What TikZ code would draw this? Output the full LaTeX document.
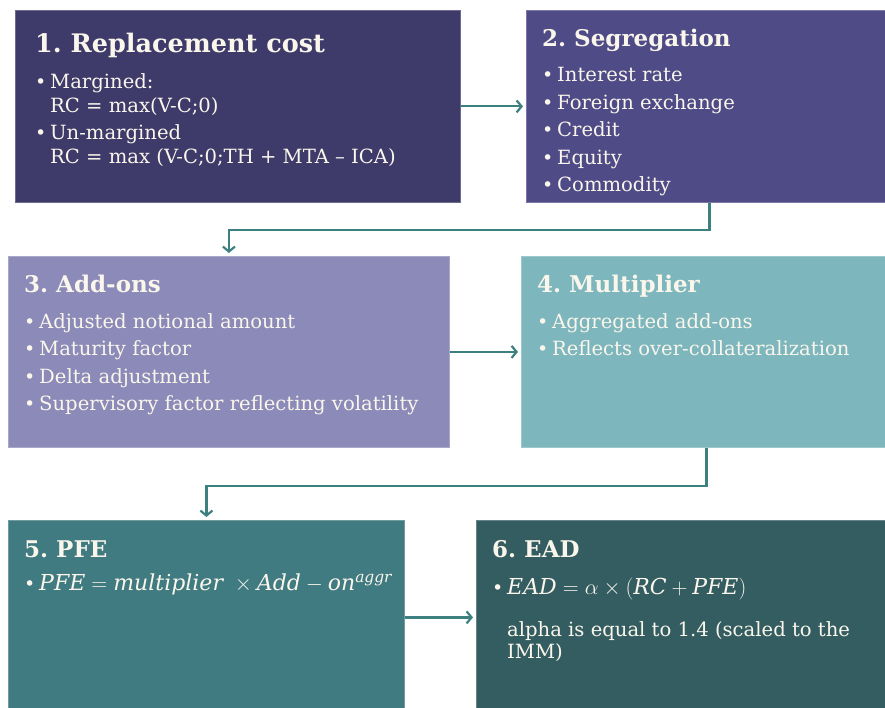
\RequirePackage{fix-cm}
\documentclass[tikz,border=0pt]{standalone}
\usepackage{fontspec}
\setmainfont{DejaVu Serif}
\usetikzlibrary{arrows.meta,positioning,calc}
\frenchspacing

\definecolor{boxone}{HTML}{3E3A6A}
\definecolor{boxtwo}{HTML}{4F4B87}
\definecolor{boxthree}{HTML}{8B8AB8}
\definecolor{boxfour}{HTML}{7DB6BD}
\definecolor{boxfive}{HTML}{407B81}
\definecolor{boxsix}{HTML}{345D61}
\definecolor{flowc}{HTML}{3D8080}
\definecolor{txt}{HTML}{FAF6EC}

\def\bul{\makebox[15pt][l]{\raisebox{0pt}{\fontsize{19}{19}\selectfont\textbullet}}}
\def\ind{\hspace*{15pt}}
\def\mth{\fontsize{22}{22}\selectfont}

\tikzset{
	panel/.style={rectangle, anchor=north west, inner sep=0pt, draw=#1!75!white, line width=0.8pt, fill=#1},
	head/.style={anchor=base west, inner sep=0pt, text=txt, font=\fontsize{23}{28}\selectfont\bfseries},
	list/.style={anchor=north west, inner sep=0pt, text=txt, align=left, font=\fontsize{19.6}{27.6}\selectfont},
	flow/.style={draw=flowc, line width=2.2pt, -{Straight Barb[length=5pt,width=12pt,line width=2.2pt]}, shorten >=3pt}
}

\begin{document}
\begin{tikzpicture}[x=1pt, y=-1pt]
	%%%%% START %%%%%
	\useasboundingbox (0, 0) rectangle (885, 708);
	
	\node[panel=boxone, minimum width=445pt, minimum height=192pt] (b1) at (15, 10) {};
	\node[panel=boxtwo, minimum width=366pt, minimum height=192pt] (b2) at (526, 10) {};
	\node[panel=boxthree, minimum width=441pt, minimum height=191pt] (b3) at (8, 256) {};
	\node[panel=boxfour, minimum width=370pt, minimum height=191pt] (b4) at (521, 256) {};
	\node[panel=boxfive, minimum width=396pt, minimum height=194pt] (b5) at (8, 520) {};
	\node[panel=boxsix, minimum width=420pt, minimum height=194pt] (b6) at (476, 520) {};
	
	% 1
	\node[head, font=\fontsize{25.5}{30}\selectfont\bfseries] (h1) at (35, 53) {1. Replacement cost};
	\node[list, font=\fontsize{19.6}{24}\selectfont] (l1) at (35, 73) {\bul Margined:\\
		\ind RC = max(V-C;0)\\[3pt]
		\bul Un-margined\\
		\ind RC = max (V-C;0;TH + MTA -- ICA)};
	
	% 2
	\node[head] (h2) at (542, 47) {2. Segregation};
	\node[list] (l2) at (542, 67) {\bul Interest rate\\ \bul Foreign exchange\\ \bul Credit\\ \bul Equity\\ \bul Commodity};
	
	% 3
	\node[head] (h3) at (24, 293) {3. Add-ons};
	\node[list] (l3) at (24, 313) {\bul Adjusted notional amount\\ \bul Maturity factor\\ \bul Delta adjustment\\ \bul Supervisory factor reflecting volatility};
	
	% 4
	\node[head] (h4) at (537, 293) {4. Multiplier};
	\node[list] (l4) at (537, 313) {\bul Aggregated add-ons\\ \bul Reflects over-collateralization};
	
	% 5
	\node[head] (h5) at (24, 557) {5. PFE};
	\node[list] (l5) at (24, 574) {\bul {\mth$\mathit{PFE} = \mathit{multiplier}\ \times \mathit{Add} - \mathit{on}^{\mathit{aggr}}$}};
	
	% 6
	\node[head] (h6) at (492, 557) {6. EAD};
	\node[list, font=\fontsize{19.6}{22}\selectfont] (l6) at (492, 578) {\bul {\mth$\mathit{EAD} = \alpha \times (\mathit{RC} + \mathit{PFE})$}\\[20pt]
		\ind alpha is equal to 1.4 (scaled to the\\
		\ind IMM)};
	
	% connectors
	\draw[flow] (b1) -- (b2);
	\draw[flow] (b2.south) -- ++(0, 27) -| (b3.north);
	\draw[flow] (b3) -- (b4);
	\draw[flow] (b4.south) -- ++(0, 38) -| (b5.north);
	\draw[flow] (b5) -- (b6);
	
	%%%%% END %%%%%
\end{tikzpicture}
\end{document}
